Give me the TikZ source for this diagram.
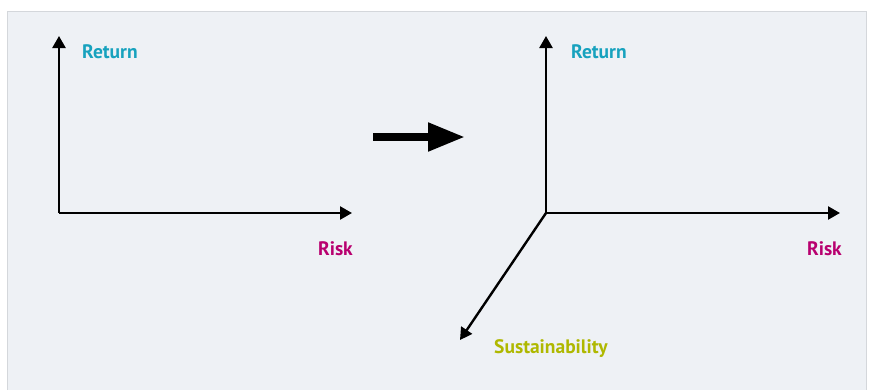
\documentclass[tikz,border=0pt]{standalone}
\usepackage{fontspec}
\setmainfont{PT Sans}
\usetikzlibrary{arrows.meta}
\definecolor{bgc}{HTML}{EEF1F5}
\definecolor{bdc}{HTML}{D4D7DB}
\definecolor{retc}{HTML}{17A2BE}
\definecolor{riskc}{HTML}{B8006F}
\definecolor{susc}{HTML}{AFB800}
\begin{document}
\begin{tikzpicture}[x=1pt,y=-1pt,
  axis/.style={line width=2.4pt,-{Triangle[width=13pt,length=12pt]}},
  lbl/.style={font=\bfseries\fontsize{19.5}{22}\selectfont,inner sep=0pt},
  bigarrow/.style={line width=8pt,-{Triangle[width=27pt,length=37pt]}}]
\useasboundingbox (0,0) rectangle (870,389);
\fill[white] (0,0) rectangle (870,389);
\draw[fill=bgc,draw=bdc,line width=1pt] (7,11) rectangle (866,395);
% left axes
\coordinate (o1) at (59,213);
\coordinate (y1) at (59,36);
\coordinate (x1) at (352,213);
\draw[axis] (o1) -- (y1);
\draw[axis] (o1) -- (x1);
\node[lbl,text=retc,anchor=west] (ret1) at (82,51.5) {Return};
\node[lbl,text=riskc,anchor=east] (risk1) at (353,248.5) {Risk};
% big arrow
\coordinate (a1) at (373,137);
\coordinate (a2) at (465,137);
\draw[bigarrow] (a1) -- (a2);
% right axes
\coordinate (o2) at (546,213);
\coordinate (y2) at (546,36);
\coordinate (x2) at (840,213);
\coordinate (z2) at (460,340);
\draw[axis] (o2) -- (y2);
\draw[axis] (o2) -- (x2);
\draw[axis] (o2) -- (z2);
\node[lbl,text=retc,anchor=west] (ret2) at (571,51.5) {Return};
\node[lbl,text=riskc,anchor=east] (risk2) at (842,248.5) {Risk};
\node[lbl,text=susc,anchor=west] (sus) at (494,348.5) {Sustainability};
\end{tikzpicture}
\end{document}
